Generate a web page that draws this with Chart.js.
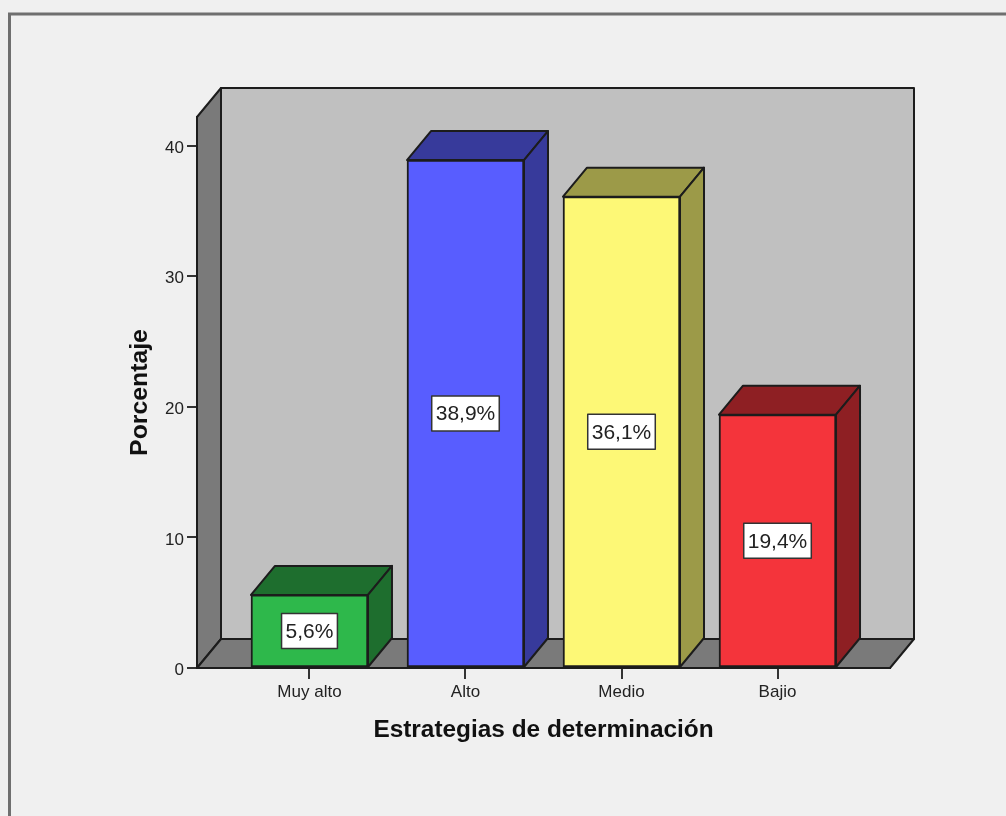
<!DOCTYPE html>
<html>
<head>
<meta charset="utf-8">
<title>Estrategias de determinación</title>
<script src="https://cdn.jsdelivr.net/npm/chart.js@4"></script>
<style>
  html, body { margin: 0; padding: 0; background: #f0f0f0; overflow: hidden; }
  canvas { display: block; }
</style>
</head>
<body>
<canvas id="chart" width="1006" height="816"></canvas>
<script>
const categories = ['Muy alto', 'Alto', 'Medio', 'Bajio'];
const percentages = [5.6, 38.9, 36.1, 19.4];
const yTicks = [0, 10, 20, 30, 40];
const frontColors = ['#2eb84b', '#585dff', '#fdf876', '#f4343b'];
const shadeColors = ['#1e6e2e', '#373a9b', '#9c9a48', '#8e1f23'];

const DEPTH_X = 24;
const DEPTH_Y = 29;
const LINE = '#1c1c1c';
const FONT = '"Liberation Sans", Arial, sans-serif';

function poly(ctx, points, fill) {
  ctx.beginPath();
  points.forEach((p, i) => (i ? ctx.lineTo(p[0], p[1]) : ctx.moveTo(p[0], p[1])));
  ctx.closePath();
  ctx.fillStyle = fill;
  ctx.fill();
  ctx.lineWidth = 2;
  ctx.strokeStyle = LINE;
  ctx.lineJoin = 'round';
  ctx.stroke();
}

// marco de la ventana y caja 3D del fondo
const boxPlugin = {
  id: 'box3d',
  beforeDraw(chart) {
    const { ctx, chartArea: a } = chart;
    ctx.save();
    ctx.fillStyle = '#f0f0f0';
    ctx.fillRect(0, 0, chart.width, chart.height);

    ctx.strokeStyle = '#6f6f6f';
    ctx.lineWidth = 3;
    ctx.beginPath();
    ctx.moveTo(9.5, chart.height);
    ctx.lineTo(9.5, 14);
    ctx.lineTo(chart.width, 14);
    ctx.stroke();

    poly(ctx, [[a.left + DEPTH_X, a.top - DEPTH_Y], [a.right + DEPTH_X, a.top - DEPTH_Y],
      [a.right + DEPTH_X, a.bottom - DEPTH_Y], [a.left + DEPTH_X, a.bottom - DEPTH_Y]], '#c0c0c0');
    poly(ctx, [[a.left, a.top], [a.left + DEPTH_X, a.top - DEPTH_Y],
      [a.left + DEPTH_X, a.bottom - DEPTH_Y], [a.left, a.bottom]], '#7a7a7a');
    poly(ctx, [[a.left, a.bottom], [a.left + DEPTH_X, a.bottom - DEPTH_Y],
      [a.right + DEPTH_X, a.bottom - DEPTH_Y], [a.right, a.bottom]], '#7a7a7a');
    ctx.restore();
  },
  afterDatasetsDraw(chart) {
    const { ctx } = chart;
    ctx.save();
    chart.getDatasetMeta(0).data.forEach((bar, i) => {
      const l = bar.x - bar.width / 2;
      const r = bar.x + bar.width / 2;
      poly(ctx, [[l, bar.y], [l + DEPTH_X, bar.y - DEPTH_Y], [r + DEPTH_X, bar.y - DEPTH_Y], [r, bar.y]], shadeColors[i]);
      poly(ctx, [[r, bar.y], [r + DEPTH_X, bar.y - DEPTH_Y], [r + DEPTH_X, bar.base - DEPTH_Y], [r, bar.base]], shadeColors[i]);

      // etiqueta del valor
      const text = percentages[i].toFixed(1).replace('.', ',') + '%';
      ctx.font = '21px ' + FONT;
      const w = ctx.measureText(text).width + 8;
      const h = 35;
      const cy = (bar.y + bar.base) / 2;
      ctx.fillStyle = '#ffffff';
      ctx.fillRect(bar.x - w / 2, cy - h / 2, w, h);
      ctx.strokeStyle = '#333333';
      ctx.lineWidth = 1.5;
      ctx.strokeRect(bar.x - w / 2, cy - h / 2, w, h);
      ctx.fillStyle = '#222222';
      ctx.textAlign = 'center';
      ctx.textBaseline = 'middle';
      ctx.fillText(text, bar.x, cy + 1);
    });
    ctx.restore();
  }
};

new Chart(document.getElementById('chart'), {
  type: 'bar',
  plugins: [boxPlugin],
  data: {
    datasets: [{
      data: percentages.map((v, i) => ({ x: i, y: v })),
      backgroundColor: frontColors,
      borderColor: LINE,
      borderWidth: 2,
      borderSkipped: false,
      barThickness: 117,
      clip: false
    }]
  },
  options: {
    responsive: false,
    animation: false,
    events: [],
    layout: { padding: { top: 117, right: 116, left: 0, bottom: 0 } },
    plugins: { legend: { display: false }, tooltip: { enabled: false } },
    scales: {
      x: {
        type: 'linear',
        offset: false,
        min: -0.721,
        max: 3.721,
        afterBuildTicks: (axis) => { axis.ticks = categories.map((_, i) => ({ value: i })); },
        afterFit: (axis) => { axis.height = 148; },
        grid: { offset: false, drawOnChartArea: false, color: '#333333', lineWidth: 2, tickLength: 11 },
        border: { color: LINE, width: 2 },
        ticks: {
          autoSkip: false,
          maxRotation: 0,
          padding: 3,
          color: '#222222',
          font: { family: FONT, size: 17 },
          callback: (value) => categories[value]
        },
        title: {
          display: true,
          text: 'Estrategias de determinación',
          color: '#111111',
          font: { family: FONT, size: 24.4, weight: 'bold' },
          padding: { top: 0, bottom: 71 }
        }
      },
      y: {
        min: 0,
        max: 42.2,
        afterBuildTicks: (axis) => { axis.ticks = yTicks.map((v) => ({ value: v })); },
        afterFit: (axis) => { axis.width = 197; },
        grid: { drawOnChartArea: false, color: '#333333', lineWidth: 2, tickLength: 10 },
        border: { color: LINE, width: 2 },
        ticks: {
          padding: 3,
          color: '#222222',
          font: { family: FONT, size: 17, lineHeight: '5px' },
          // linea vacia arriba: baja el numero un poco respecto a la marca
          callback: (value) => ['', String(value)]
        },
        title: {
          display: true,
          text: 'Porcentaje',
          color: '#111111',
          font: { family: FONT, size: 24.8, weight: 'bold' },
          padding: { top: 125, bottom: 0 }
        }
      }
    }
  }
});
</script>
</body>
</html>
